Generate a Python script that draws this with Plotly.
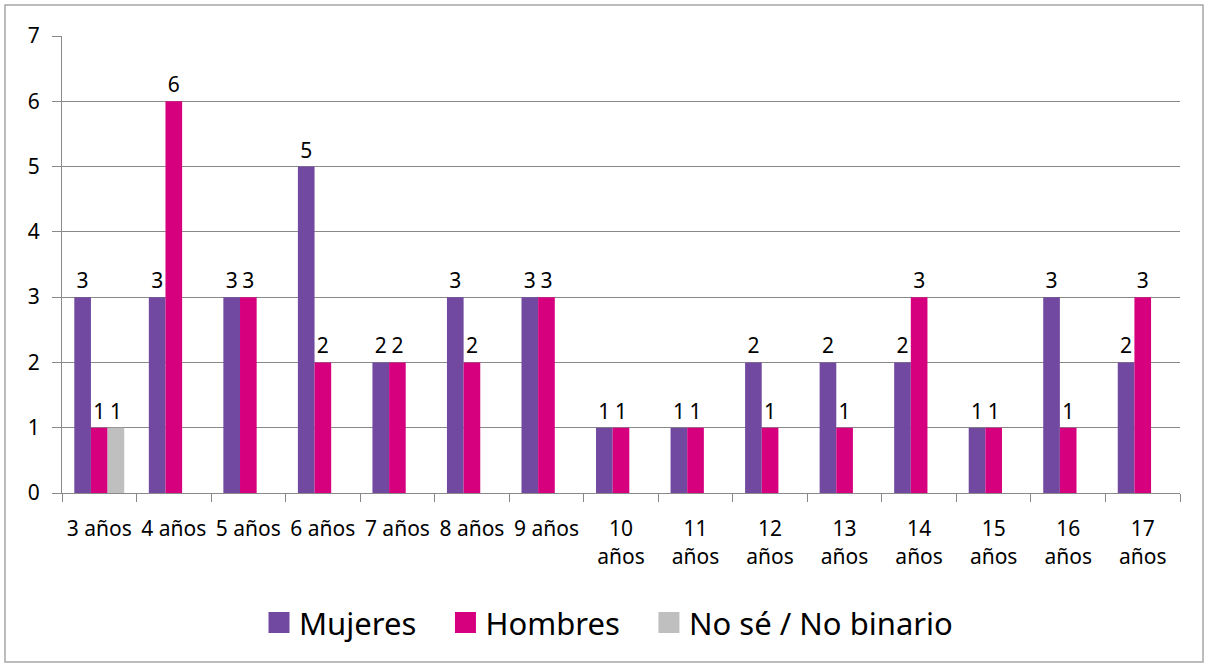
import plotly.graph_objects as go

categorias = ["3 años", "4 años", "5 años", "6 años", "7 años", "8 años", "9 años",
              "10<br>años", "11<br>años", "12<br>años", "13<br>años", "14<br>años",
              "15<br>años", "16<br>años", "17<br>años"]
mujeres = [3, 3, 3, 5, 2, 3, 3, 1, 1, 2, 2, 2, 1, 3, 2]
hombres = [1, 6, 3, 2, 2, 2, 3, 1, 1, 1, 1, 3, 1, 1, 3]
no_binario = [1, None, None, None, None, None, None, None, None, None, None, None, None, None, None]

series = [
    ("Mujeres", mujeres, "#7149A0"),
    ("Hombres", hombres, "#D6007F"),
    ("No sé / No binario", no_binario, "#BFBFBF"),
]

fig = go.Figure()
for nombre, vals, color in series:
    fig.add_trace(go.Bar(
        x=categorias, y=vals, name=nombre, showlegend=False,
        marker=dict(color=color, line=dict(width=0)),
        text=[str(v) if v else "" for v in vals],
        textposition="outside", cliponaxis=False,
        textfont=dict(size=21, color="black"),
    ))

# legend entries with bigger square symbols
for nombre, vals, color in series:
    fig.add_trace(go.Scatter(
        x=[None], y=[None], mode="markers", name=nombre + "   ",
        marker=dict(symbol="square", size=16, color=color, line=dict(color=color, width=5)),
    ))

fig.update_layout(
    width=1208, height=666,
    margin=dict(l=62, r=28, t=36, b=173),
    paper_bgcolor="white", plot_bgcolor="white",
    font=dict(family="Noto Sans, Open Sans, sans-serif", color="black"),
    barmode="group", bargap=0.33, bargroupgap=0,
    showlegend=True,
    legend=dict(orientation="h", x=0.5, xanchor="center", y=-0.225, yanchor="top",
                font=dict(size=31), itemwidth=30, traceorder="normal"),
    xaxis=dict(type="category", tickson="boundaries", ticks="outside", ticklen=8,
               tickcolor="#898989", showline=True, linecolor="#898989",
               tickfont=dict(size=21), showgrid=False, ticklabelstandoff=17),
    yaxis=dict(range=[0, 7], dtick=1, ticks="outside", ticklen=9, tickcolor="#898989",
               showline=True, linecolor="#898989", gridcolor="#898989", gridwidth=1,
               tickfont=dict(size=21), zeroline=False, ticklabelstandoff=8),
    shapes=[dict(type="rect", xref="paper", yref="paper",
                 x0=(5 - 62) / 1118, x1=(1203 - 62) / 1118,
                 y0=(493 - 662) / 457, y1=(493 - 5) / 457,
                 line=dict(color="#A6A6A6", width=1.5), layer="below")],
)

fig.write_html("out.html", config={"displayModeBar": False},
               post_script="document.body.style.margin='0';")
